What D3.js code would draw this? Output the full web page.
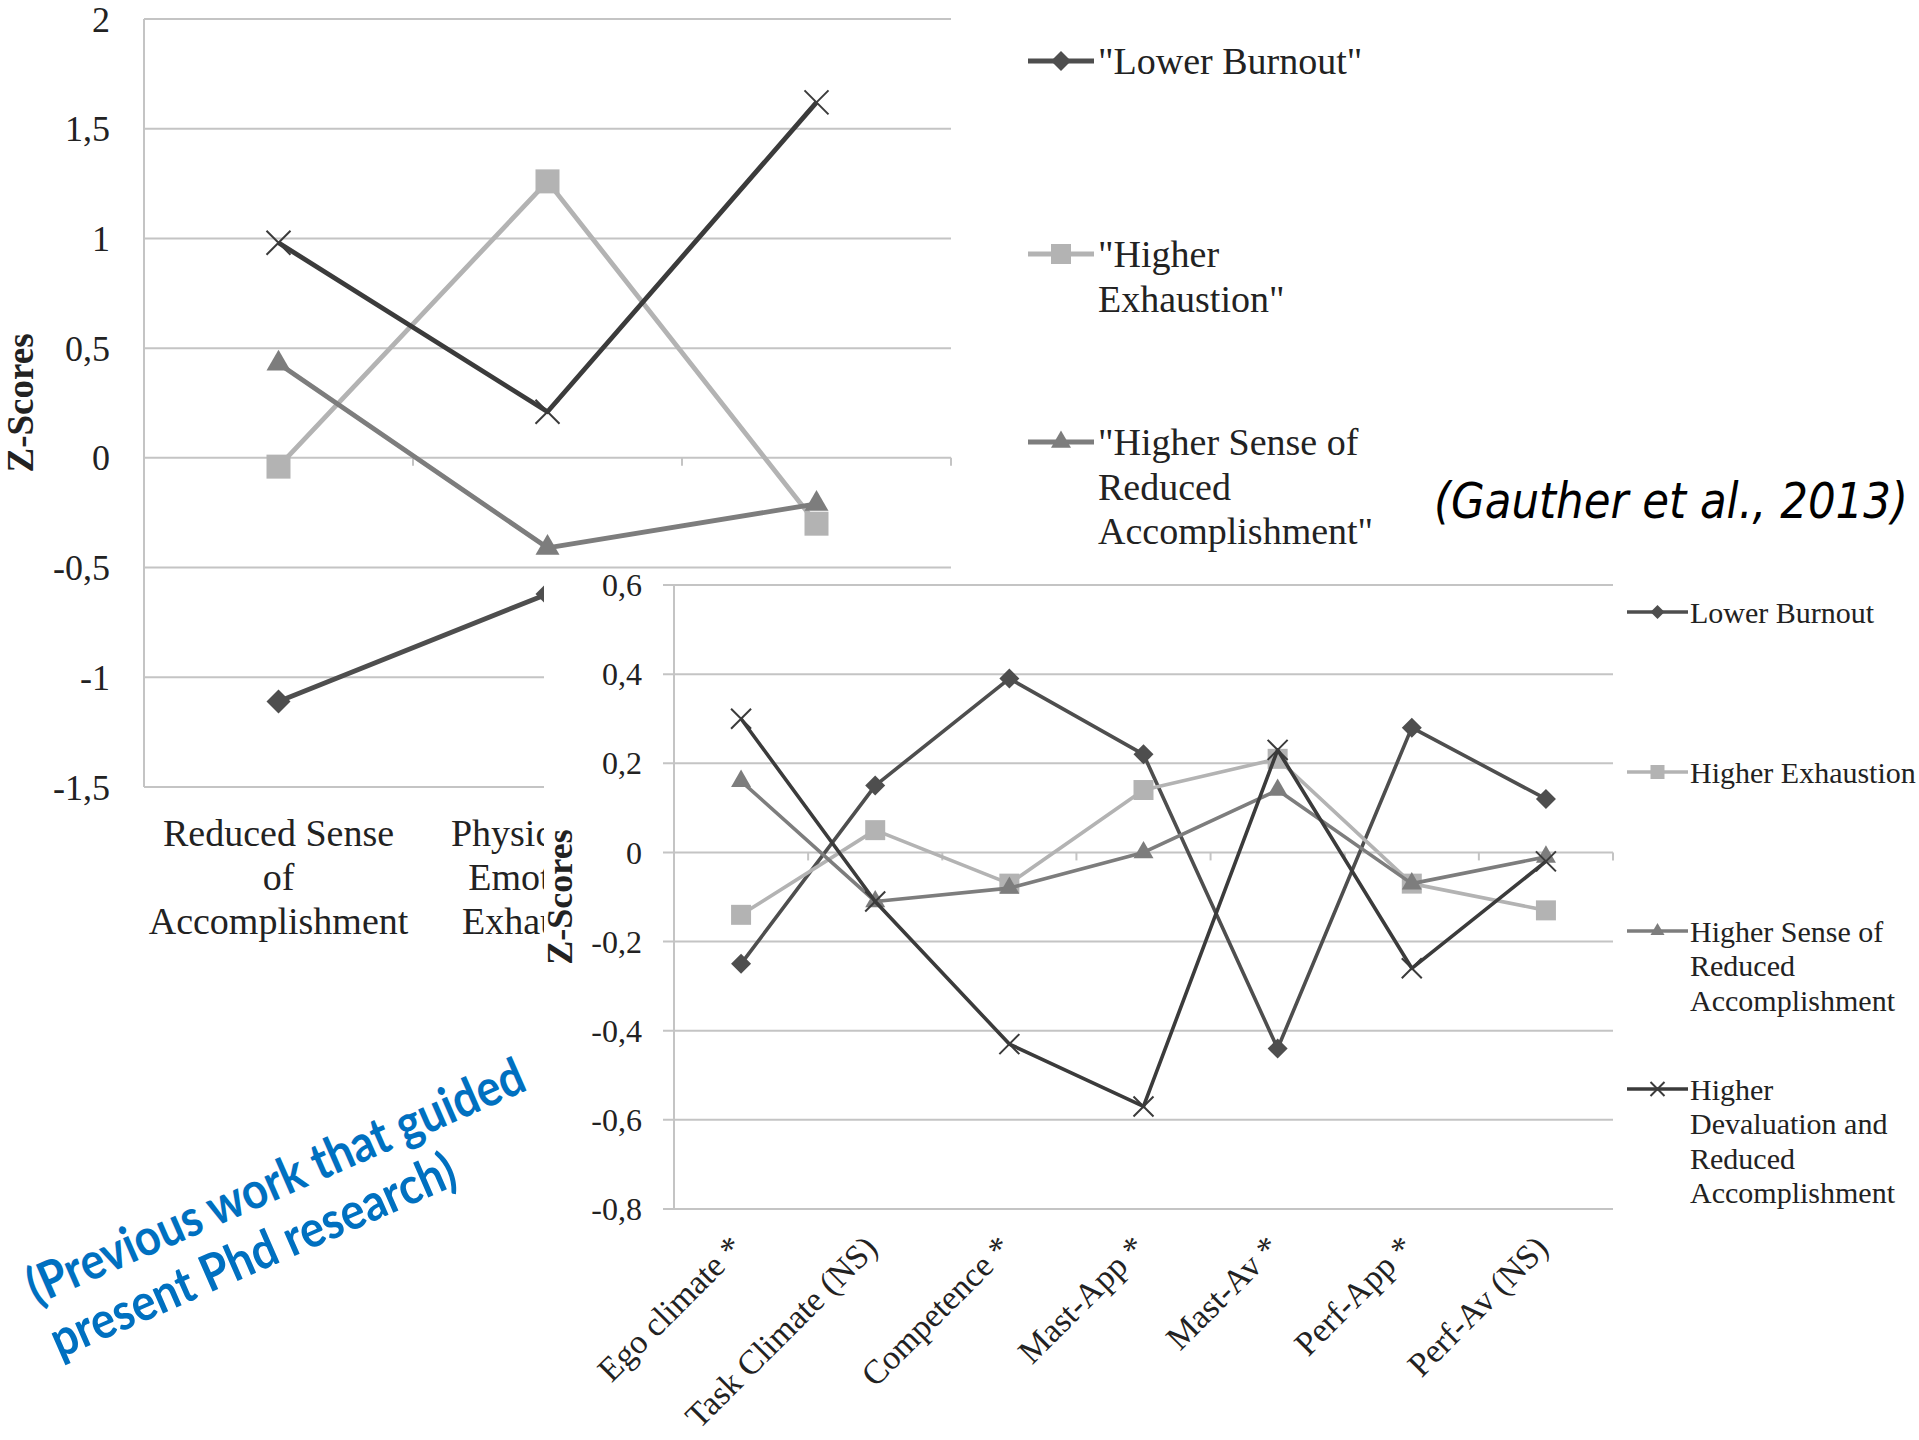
<!DOCTYPE html>
<html>
<head>
<meta charset="utf-8">
<script src="https://cdn.jsdelivr.net/npm/d3@7"></script>
<style>
  body { margin: 0; background: #fff; }
  text { font-family: "Liberation Serif", "Times New Roman", serif; fill: #222; }
</style>
</head>
<body>
<svg id="chart" width="1919" height="1440"></svg>
<script>
// ---- Burnout profiles across the three burnout dimensions ----
const dimCategories = [
  ["Reduced Sense", "of", "Accomplishment"],
  ["Physical and", "Emotional", "Exhaustion"],
  ["Sport", "Devaluation"]
];
const dimTicks = [2, 1.5, 1, 0.5, 0, -0.5, -1, -1.5];
const dimLowerBurnout      = [-1.11, -0.62, -0.85];
const dimHigherExhaustion  = [-0.04, 1.26, -0.30];
const dimHigherReduced     = [0.43, -0.41, -0.21];
const dimHigherDevaluation = [0.98, 0.21, 1.62];
const dimLegend = [
  ['"Lower Burnout"'],
  ['"Higher', 'Exhaustion"'],
  ['"Higher Sense of', 'Reduced', 'Accomplishment"']
];

// ---- Burnout profiles across motivational variables ----
const motCategories = ["Ego climate *", "Task Climate (NS)", "Competence *", "Mast-App *",
                       "Mast-Av *", "Perf-App *", "Perf-Av (NS)"];
const motTicks = [0.6, 0.4, 0.2, 0, -0.2, -0.4, -0.6, -0.8];
const motLowerBurnout      = [-0.25, 0.15, 0.39, 0.22, -0.44, 0.28, 0.12];
const motHigherExhaustion  = [-0.14, 0.05, -0.07, 0.14, 0.21, -0.07, -0.13];
const motHigherReduced     = [0.16, -0.11, -0.08, 0.00, 0.14, -0.07, -0.01];
const motHigherDevaluation = [0.30, -0.11, -0.43, -0.57, 0.23, -0.26, -0.02];
const motLegend = [
  ["Lower Burnout"],
  ["Higher Exhaustion"],
  ["Higher Sense of", "Reduced", "Accomplishment"],
  ["Higher", "Devaluation and", "Reduced", "Accomplishment"]
];

// visual style per profile (same order in both charts)
const seriesStyle = [
  { color: "#4e4e4e", shape: "diamond" },
  { color: "#b3b3b3", shape: "square" },
  { color: "#7d7d7d", shape: "triangle" },
  { color: "#3b3b3b", shape: "x" }
];

const svg = d3.select("#chart");
svg.append("rect").attr("width", 1919).attr("height", 1440).attr("fill", "#fff");

const fmt = d => String(d).replace(".", ",");

function markerPath(shape, s) {
  if (shape === "diamond") return d3.symbol().type(d3.symbolSquare).size(s * s / 2)();
  if (shape === "square") return d3.symbol().type(d3.symbolSquare).size(s * s)();
  if (shape === "triangle") return d3.symbol().type(d3.symbolTriangle).size(Math.sqrt(3) / 4 * s * s)();
  const h = s / 2;
  return `M${-h},${-h}L${h},${h}M${-h},${h}L${h},${-h}`;
}

function drawMarker(g, shape, color, x, y, s) {
  const p = g.append("path")
    .attr("d", markerPath(shape, s))
    .attr("transform", `translate(${x},${y})` + (shape === "diamond" ? " rotate(45)" : ""));
  if (shape === "x") p.attr("fill", "none").attr("stroke", color).attr("stroke-width", 2);
  else p.attr("fill", color);
}

function lineChart(g, cfg) {
  const x = d3.scaleBand().domain(d3.range(cfg.n)).range(cfg.xRange);
  const y = d3.scaleLinear().domain(cfg.yDomain).range(cfg.yRange);
  const bw = x.bandwidth();
  const cx = i => x(i) + bw / 2;

  // horizontal gridlines
  g.selectAll("line.grid").data(cfg.ticks).join("line")
    .attr("x1", cfg.xRange[0] - cfg.tickOut).attr("x2", cfg.xRange[1])
    .attr("y1", d => y(d)).attr("y2", d => y(d))
    .attr("stroke", "#c4c4c4").attr("stroke-width", cfg.gridW);

  // vertical axis
  g.append("line")
    .attr("x1", cfg.xRange[0]).attr("x2", cfg.xRange[0])
    .attr("y1", y(cfg.yDomain[1])).attr("y2", y(cfg.yDomain[0]))
    .attr("stroke", "#c4c4c4").attr("stroke-width", cfg.gridW);

  // category boundary ticks on the zero line
  g.selectAll("line.ctick").data(d3.range(1, cfg.n + 1)).join("line")
    .attr("x1", i => cfg.xRange[0] + i * bw).attr("x2", i => cfg.xRange[0] + i * bw)
    .attr("y1", y(0)).attr("y2", y(0) + 8)
    .attr("stroke", "#c4c4c4").attr("stroke-width", cfg.gridW);

  // tick labels
  g.selectAll("text.ylab").data(cfg.ticks).join("text")
    .attr("x", cfg.labelRight).attr("y", d => y(d)).attr("dy", "0.35em")
    .attr("text-anchor", "end").attr("font-size", cfg.tickFont)
    .text(fmt);

  // axis title
  g.append("text")
    .attr("transform", `translate(${cfg.titleX},${(cfg.yRange[0] + cfg.yRange[1]) / 2}) rotate(-90)`)
    .attr("text-anchor", "middle").attr("font-weight", "bold").attr("font-size", cfg.titleFont)
    .text("Z-Scores");

  // profile lines and markers
  const line = d3.line().x((d, i) => cx(i)).y(d => y(d));
  cfg.series.forEach((vals, k) => {
    const st = seriesStyle[k];
    g.append("path").datum(vals).attr("d", line)
      .attr("fill", "none").attr("stroke", st.color).attr("stroke-width", cfg.lineW)
      .attr("stroke-linejoin", "round");
    vals.forEach((v, i) => drawMarker(g, st.shape, st.color, cx(i), y(v), cfg.markSize));
  });

  // legend
  cfg.legend.forEach((lines, k) => {
    const st = seriesStyle[k];
    const y0 = cfg.legendRows[k];
    g.append("line")
      .attr("x1", cfg.legendLine[0]).attr("x2", cfg.legendLine[1])
      .attr("y1", y0).attr("y2", y0)
      .attr("stroke", st.color).attr("stroke-width", cfg.lineW);
    drawMarker(g, st.shape, st.color, (cfg.legendLine[0] + cfg.legendLine[1]) / 2, y0, cfg.legendMark);
    lines.forEach((t, j) => {
      g.append("text")
        .attr("x", cfg.legendText).attr("y", y0 + j * cfg.legendGap).attr("dy", "0.35em")
        .attr("font-size", cfg.legendFont).text(t);
    });
  });
  return { x, y, cx };
}

// ---- chart A ----
const gA = svg.append("g");
const A = lineChart(gA, {
  n: 3, xRange: [144, 951], yDomain: [-1.5, 2], yRange: [787, 19],
  ticks: dimTicks, tickOut: 0, gridW: 2, labelRight: 110, tickFont: 36,
  titleX: 33, titleFont: 37, lineW: 4.8, markSize: 24,
  series: [dimLowerBurnout, dimHigherExhaustion, dimHigherReduced, dimHigherDevaluation],
  legend: dimLegend, legendRows: [61, 254, 442], legendGap: 44.5,
  legendLine: [1028, 1094], legendMark: 20, legendText: 1098, legendFont: 38
});
dimCategories.forEach((lines, i) => {
  lines.forEach((t, j) => {
    gA.append("text").attr("x", A.cx(i)).attr("y", 833 + j * 44).attr("dy", "0.35em")
      .attr("text-anchor", "middle").attr("font-size", 38).text(t);
  });
});

// ---- chart B, laid over the lower right of chart A ----
const gB = svg.append("g");
gB.append("rect").attr("x", 544).attr("y", 571).attr("width", 1375).attr("height", 869).attr("fill", "#fff");
const B = lineChart(gB, {
  n: 7, xRange: [674, 1613], yDomain: [-0.8, 0.6], yRange: [1209, 585],
  ticks: motTicks, tickOut: 11, gridW: 2, labelRight: 642, tickFont: 32,
  titleX: 572, titleFont: 36, lineW: 3.6, markSize: 20,
  series: [motLowerBurnout, motHigherExhaustion, motHigherReduced, motHigherDevaluation],
  legend: motLegend, legendRows: [612, 772, 931, 1089], legendGap: 34.5,
  legendLine: [1627, 1688], legendMark: 14, legendText: 1690, legendFont: 30
});
motCategories.forEach((t, i) => {
  gB.append("text")
    .attr("transform", `translate(${B.cx(i) + 4},1250) rotate(-45)`)
    .attr("text-anchor", "end").attr("font-size", 34).text(t);
});

// ---- annotations ----
svg.append("text")
  .attr("x", 1434).attr("y", 518)
  .attr("font-style", "italic")
  .attr("font-size", 50).attr("textLength", 474).attr("lengthAdjust", "spacingAndGlyphs")
  .style("font-family", "'DejaVu Sans', sans-serif").style("fill", "#000")
  .text("(Gauther et al., 2013)");

const note = svg.append("g").attr("transform", "translate(36,1305) rotate(-23.6)");
[["(Previous work that guided", 538], ["present Phd research)", 437]].forEach(([t, len], j) => {
  note.append("text").attr("x", 0).attr("y", j * 58.5)
    .attr("font-size", 51).attr("font-weight", "bold")
    .attr("textLength", len).attr("lengthAdjust", "spacingAndGlyphs")
    .style("font-family", "Lato, 'Open Sans', sans-serif").style("fill", "#0070c0")
    .text(t);
});
</script>
</body>
</html>
